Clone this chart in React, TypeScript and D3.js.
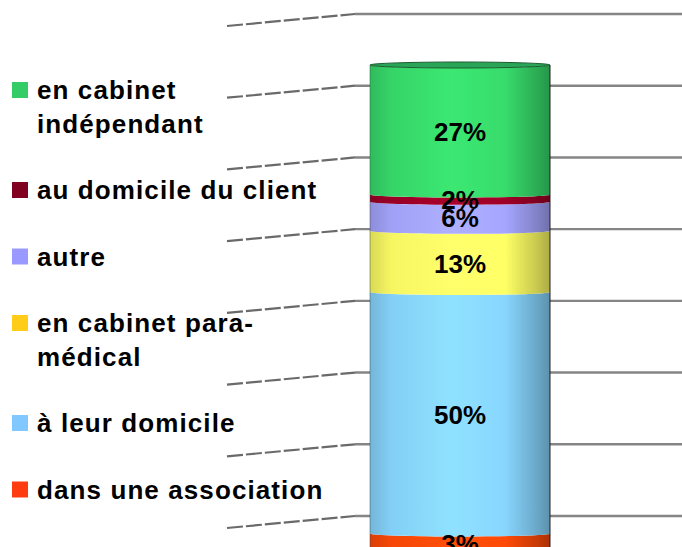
import React, { useEffect, useRef } from 'react'
import * as d3 from 'd3'

// stacked from the bottom up
const categories = ['dans une association', 'à leur domicile', 'en cabinet para-médical', 'autre', 'au domicile du client', 'en cabinet indépendant']
const shares = [3.4, 49.8, 12.6, 6.0, 1.5, 26.7]
const barColors = ['#ff4a08', '#88d6ff', '#ffff66', '#a6a6ff', '#a00028', '#38dc6c']
const legendColors = ['#ff3c10', '#80c8ff', '#ffcc18', '#9999ff', '#800020', '#33cc66']
const legendLines = [['dans une association'], ['à leur domicile'], ['en cabinet para-', 'médical'], ['autre'], ['au domicile du client'], ['en cabinet', 'indépendant']]
const wallTicks = [0, 20, 40, 60, 80, 100, 120, 140]

const W = 682
const H = 547

export default function App() {
  const ref = useRef<SVGSVGElement>(null)

  useEffect(() => {
    const svg = d3.select(ref.current)
    svg.selectAll('*').remove()

    const font = '"Liberation Sans", Arial, sans-serif'
    const defs = svg.append('defs')

    // back wall gridlines (3D floor/wall perspective)
    const wall = d3.scaleLinear().domain([0, 140]).range([516, 14])
    const depthX = d3.scaleLinear().domain([0, 1]).range([227, 355])
    const grid = svg.append('g')
    wallTicks.forEach(t => {
      const y = wall(t)
      grid.append('line')
        .attr('x1', depthX(0)).attr('y1', y + 12)
        .attr('x2', depthX(1)).attr('y2', y)
        .attr('stroke', '#6a6a6a').attr('stroke-width', 2.2).attr('stroke-dasharray', '16 3')
      grid.append('line')
        .attr('x1', depthX(1)).attr('y1', y)
        .attr('x2', W).attr('y2', y)
        .attr('stroke', '#858585').attr('stroke-width', 2.4)
    })

    // cylinder
    const x = d3.scaleBand().domain(['all']).range([370, 550]).padding(0)
    const y = d3.scaleLinear().domain([0, 100]).range([550, 65])
    const x0 = x('all') as number
    const bw = x.bandwidth()
    const rx = bw / 2
    const ry = 3

    let acc = 0
    const stacked = shares.map((v, i) => {
      const s = { i, v, y0: acc, y1: acc + v }
      acc += v
      return s
    })

    stacked.forEach(s => {
      const c = d3.color(barColors[s.i]) as d3.RGBColor
      const g = defs.append('linearGradient').attr('id', 'grad' + s.i)
        .attr('x1', 0).attr('x2', 1).attr('y1', 0).attr('y2', 0)
      const stops: [number, string][] = [
        [0, c.darker(0.45).formatHex()],
        [0.12, c.darker(0.1).formatHex()],
        [0.45, c.brighter(0.15).formatHex()],
        [0.75, c.formatHex()],
        [0.93, c.darker(0.7).formatHex()],
        [1, c.darker(1.1).formatHex()]
      ]
      stops.forEach(([o, col]) => g.append('stop').attr('offset', o).attr('stop-color', col))
    })

    const cyl = svg.append('g')
    stacked.forEach(s => {
      const yb = y(s.y0)
      const yt = y(s.y1)
      const p = d3.path()
      p.moveTo(x0, yt)
      p.lineTo(x0, yb)
      // front half of lower ellipse
      p.bezierCurveTo(x0, yb + ry * 1.33, x0 + bw, yb + ry * 1.33, x0 + bw, yb)
      p.lineTo(x0 + bw, yt)
      p.bezierCurveTo(x0 + bw, yt + ry * 1.33, x0, yt + ry * 1.33, x0, yt)
      p.closePath()
      cyl.append('path').attr('d', p.toString()).attr('fill', `url(#grad${s.i})`)
    })

    // top cap
    const top = stacked[stacked.length - 1]
    cyl.append('ellipse')
      .attr('cx', x0 + rx).attr('cy', y(top.y1))
      .attr('rx', rx).attr('ry', ry)
      .attr('fill', '#2aa456').attr('stroke', '#1c5e32').attr('stroke-width', 1)

    // side outlines
    cyl.append('line').attr('x1', x0).attr('x2', x0).attr('y1', y(top.y1)).attr('y2', H)
      .attr('stroke', '#3a4a40').attr('stroke-width', 0.8).attr('opacity', 0.6)
    cyl.append('line').attr('x1', x0 + bw).attr('x2', x0 + bw).attr('y1', y(top.y1)).attr('y2', H)
      .attr('stroke', '#1a1a1a').attr('stroke-width', 1.2).attr('opacity', 0.8)

    // data labels
    svg.append('g').selectAll('text')
      .data(stacked)
      .enter().append('text')
      .attr('x', x0 + rx)
      .attr('y', d => (y(d.y0) + y(d.y1)) / 2 + 2)
      .attr('dy', '0.35em')
      .attr('text-anchor', 'middle')
      .style('font-family', font)
      .style('font-weight', 'bold')
      .style('font-size', '26px')
      .attr('fill', '#000')
      .text(d => Math.round(d.v) + '%')

    // legend, top entry is the last category
    const legend = svg.append('g')
    const lineH = 33.5
    const gap = 33
    let by = 99
    for (let i = categories.length - 1; i >= 0; i--) {
      legend.append('rect')
        .attr('x', 12).attr('y', by - 17)
        .attr('width', 16).attr('height', 16)
        .attr('fill', legendColors[i])
      legendLines[i].forEach((ln, k) => {
        legend.append('text')
          .attr('x', 37).attr('y', by + k * lineH)
          .style('font-family', font)
          .style('font-weight', 'bold')
          .style('font-size', '26px')
          .style('letter-spacing', '1.1px')
          .attr('fill', '#000')
          .text(ln)
      })
      by += legendLines[i].length * lineH + gap
    }
  }, [])

  return (
    <svg ref={ref} width={W} height={H}
      style={{ position: 'absolute', left: 0, top: 0, background: '#fff', overflow: 'hidden' }} />
  )
}
